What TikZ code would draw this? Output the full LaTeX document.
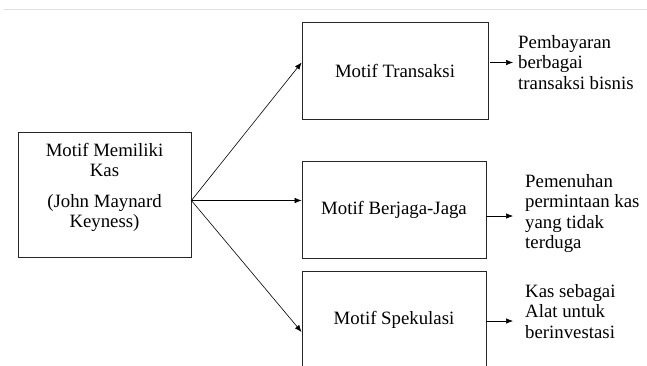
\documentclass[tikz,border=0pt]{standalone}
\usepackage{fontspec}
\setmainfont{LiberationSerif}[Extension=.ttf, UprightFont=*-Regular, BoldFont=*-Bold]
\usetikzlibrary{arrows.meta,calc,positioning}

\begin{document}
\begin{tikzpicture}[
	x=1pt, y=-1pt,
	font=\fontsize{18.8}{20.5}\selectfont,
	box/.style={draw=black!85, line width=0.8pt, inner sep=0pt},
	desc/.style={anchor=north west, align=left, inner sep=0pt},
	arr/.style={-{Latex[length=7pt,width=5.5pt]}, line width=0.6pt}
	]
	\useasboundingbox (0,0) rectangle (647,365);
	\draw[black!12, line width=0.8pt] (4,9) -- (647,9);
	% boxes
	\node[box, minimum width=173, minimum height=125] (kas) at (104.5,194.5) {};
	\node[align=center, inner sep=0pt, anchor=north] (kastext) at (104.5,143)
		{Motif Memiliki\\Kas\\[10pt](John Maynard\\Keyness)};
	\node[box, minimum width=186, minimum height=97] (trans) at (395,70.5) {Motif Transaksi};
	\node[box, minimum width=184, minimum height=97] (jaga) at (394,209.5) {Motif Berjaga-Jaga};
	\node[box, minimum width=184, minimum height=98] (spek) at (394,320) {Motif Spekulasi};
	% descriptions
	\node[desc] (bayar) at (518,35) {Pembayaran\\berbagai\\transaksi bisnis};
	\node[desc] (penuh) at (525,174) {Pemenuhan\\permintaan kas\\yang tidak\\terduga};
	\node[desc] (invest) at (525,284) {Kas sebagai\\Alat untuk\\berinvestasi};
	% arrows
	\coordinate (hub) at ($(kas.east)+(0,6)$);
	\draw[arr] (hub) -- ($(trans.west)+(0,-8)$);
	\draw[arr] (hub) -- (hub -| jaga.west);
	\draw[arr] (hub) -- ($(spek.west)+(0,12)$);
	\coordinate (tout) at ($(trans.east)+(2,-8)$);
	\coordinate (jout) at ($(jaga.east)+(0,6.5)$);
	\coordinate (sout) at ($(spek.east)+(0,1)$);
	\draw[arr, shorten >=5pt] (tout) -- (tout -| bayar.west);
	\draw[arr, shorten >=12pt] (jout) -- (jout -| penuh.west);
	\draw[arr, shorten >=12pt] (sout) -- (sout -| invest.west);
\end{tikzpicture}
\end{document}
